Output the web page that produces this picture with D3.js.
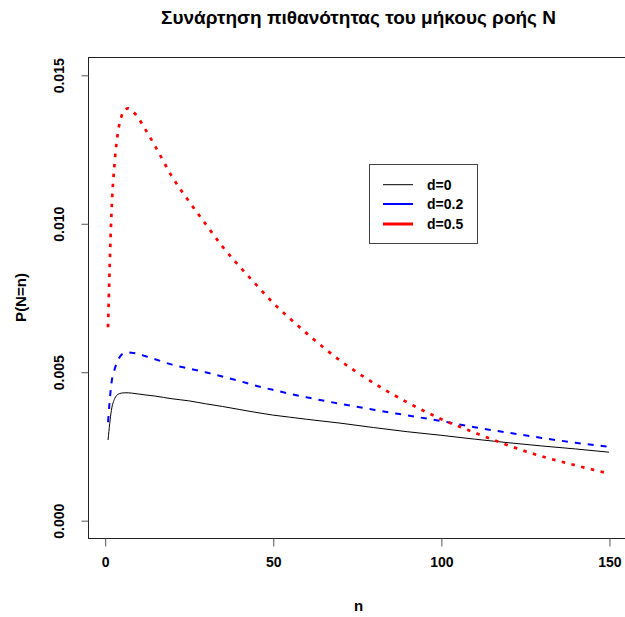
<!DOCTYPE html>
<html>
<head>
<meta charset="utf-8">
<script src="https://cdn.jsdelivr.net/npm/d3@7"></script>
<style>
  html, body { margin: 0; padding: 0; background: #fff; }
  svg { display: block; }
  text { font-family: "Liberation Sans", Arial, sans-serif; font-weight: bold; fill: #000; }
</style>
</head>
<body>
<svg id="chart" width="625" height="617"></svg>
<script>
// ---- data ----
const nValues = [1, 2, 3, 4, 5, 6, 7, 8, 10, 12, 15, 20, 25, 30, 35, 40, 45, 50, 55, 60, 70, 80, 90, 100, 110, 120, 130, 140, 150];
const pD0  = [0.00270, 0.00370, 0.00410, 0.00424, 0.00428, 0.00429, 0.00429, 0.00428, 0.00425, 0.00422, 0.00418, 0.00409, 0.00402, 0.00392, 0.00383, 0.00373, 0.00363, 0.00354, 0.00347, 0.00340, 0.00327, 0.00312, 0.00298, 0.00286, 0.00273, 0.00261, 0.00250, 0.00240, 0.00229];
const pD02 = [0.00330, 0.00460, 0.00510, 0.00540, 0.00557, 0.00563, 0.00565, 0.00564, 0.00560, 0.00553, 0.00542, 0.00524, 0.00511, 0.00498, 0.00484, 0.00469, 0.00453, 0.00439, 0.00426, 0.00414, 0.00392, 0.00372, 0.00353, 0.00334, 0.00313, 0.00295, 0.00277, 0.00261, 0.00247];
const pD05 = [0.00650, 0.01030, 0.01210, 0.01310, 0.01360, 0.01383, 0.01387, 0.01380, 0.01355, 0.01318, 0.01260, 0.01158, 0.01075, 0.00998, 0.00922, 0.00856, 0.00794, 0.00733, 0.00680, 0.00630, 0.00538, 0.00462, 0.00397, 0.00341, 0.00295, 0.00252, 0.00215, 0.00185, 0.00157];
const seriesNames = ["d=0", "d=0.2", "d=0.5"];
const xTicks = [0, 50, 100, 150];
const yTicks = [0, 0.005, 0.010, 0.015];
const yTickLabels = ["0.000", "0.005", "0.010", "0.015"];
const titleText = "Συνάρτηση πιθανότητας του μήκους ροής N";
const xLabel = "n";
const yLabel = "P(N=n)";

// ---- styles ----
const styles = [
  { color: "#000000", width: 1, dash: null, legendWidth: 1 },
  { color: "#0000FF", width: 2, dash: "6,7", legendWidth: 2 },
  { color: "#FF0000", width: 2.7, dash: "3.5,6.5", legendWidth: 3 }
];

const svg = d3.select("#chart");
const W = 625, H = 617;
const plot = { left: 88, right: 629, top: 57, bottom: 538 };

// R-style 4% extension
const x = d3.scaleLinear().domain([1 - 0.04 * 149, 150 + 0.04 * 149]).range([plot.left, plot.right]);
const y = d3.scaleLinear().domain([-0.0006, 0.0156]).range([plot.bottom, plot.top]);

svg.append("rect").attr("width", W).attr("height", H).attr("fill", "#fff");

// lines
const allSeries = [pD0, pD02, pD05];
const line = d3.line().x(d => x(d[0])).y(d => y(d[1])).curve(d3.curveMonotoneX);
allSeries.forEach((vals, i) => {
  const pts = nValues.map((n, j) => [n, vals[j]]);
  svg.append("path")
    .datum(pts)
    .attr("d", line)
    .attr("fill", "none")
    .attr("stroke", styles[i].color)
    .attr("stroke-width", styles[i].width)
    .attr("stroke-dasharray", styles[i].dash);
});

// box
svg.append("rect")
  .attr("x", plot.left + 0.5).attr("y", plot.top + 0.5)
  .attr("width", plot.right - plot.left).attr("height", plot.bottom - plot.top)
  .attr("fill", "none").attr("stroke", "#222").attr("stroke-width", 1);

// x axis
const xAxis = d3.axisBottom(x).tickValues(xTicks).tickSize(8).tickPadding(11).tickFormat(d3.format("d"));
const gx = svg.append("g").attr("transform", `translate(0.5,${plot.bottom + 0.5})`).call(xAxis);
gx.select(".domain").remove();
gx.selectAll(".tick line").attr("stroke", "#555");
gx.selectAll(".tick text").style("font-size", "14px").attr("font-family", "Liberation Sans, Arial, sans-serif").attr("font-weight", "bold");

// y axis
const yAxis = d3.axisLeft(y).tickValues(yTicks).tickSize(7).tickFormat((d, i) => yTickLabels[i]);
const gy = svg.append("g").attr("transform", `translate(${plot.left + 0.5},0.5)`).call(yAxis);
gy.select(".domain").remove();
gy.selectAll(".tick line").attr("stroke", "#555");
gy.selectAll(".tick text")
  .attr("x", null).attr("dy", null)
  .attr("text-anchor", "middle")
  .attr("transform", "translate(-25,0) rotate(-90)")
  .style("font-size", "14px")
  .attr("font-family", "Liberation Sans, Arial, sans-serif").attr("font-weight", "bold");

// title
svg.append("text")
  .attr("x", (plot.left + plot.right) / 2).attr("y", 24)
  .attr("text-anchor", "middle").style("font-size", "19px")
  .text(titleText);

// axis labels
svg.append("text")
  .attr("x", (plot.left + plot.right) / 2).attr("y", 611)
  .attr("text-anchor", "middle").style("font-size", "15px")
  .text(xLabel);
svg.append("text")
  .attr("transform", `translate(26,${(plot.top + plot.bottom) / 2}) rotate(-90)`)
  .attr("text-anchor", "middle").style("font-size", "15px")
  .text(yLabel);

// legend
const lg = svg.append("g");
lg.append("rect").attr("x", 369.5).attr("y", 164.5).attr("width", 108).attr("height", 79)
  .attr("fill", "#fff").attr("stroke", "#444").attr("stroke-width", 1);
const legY = [184.7, 204, 224];
seriesNames.forEach((name, i) => {
  lg.append("line").attr("x1", 383).attr("x2", 413).attr("y1", legY[i]).attr("y2", legY[i])
    .attr("stroke", styles[i].color).attr("stroke-width", styles[i].legendWidth);
  lg.append("text").attr("x", 427).attr("y", legY[i] + 5).style("font-size", "14px").text(name);
});
</script>
</body>
</html>
